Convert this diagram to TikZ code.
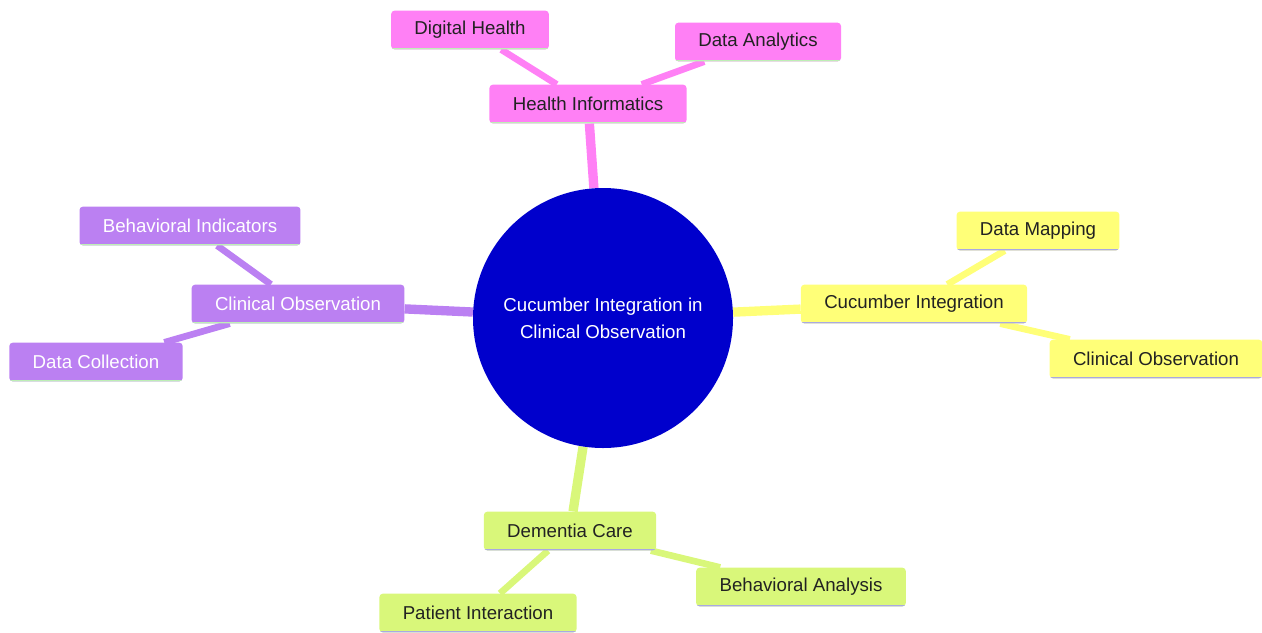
\documentclass[tikz,border=0pt]{standalone}
\usepackage{fontspec}
\setmainfont{Liberation Sans}
\usetikzlibrary{backgrounds}

\definecolor{pinkfill}{HTML}{FF80F5}
\definecolor{purplefill}{HTML}{BB80F2}
\definecolor{yellowfill}{HTML}{FFFF78}
\definecolor{limefill}{HTML}{D9F77A}
\definecolor{greenline}{HTML}{BDEFB5}
\definecolor{lavline}{HTML}{A9A9E3}
\definecolor{hubblue}{HTML}{0000CC}
\definecolor{darktext}{HTML}{222222}

\begin{document}
\begin{tikzpicture}[x=0.75pt,y=-0.75pt,
    topic/.style 2 args={rectangle, rounded corners=2.5pt, fill=#1, minimum height=29pt,
      inner xsep=17.5pt, font=\fontsize{14}{16}\selectfont, text=darktext,
      path picture={\draw[#2,line width=2pt] (path picture bounding box.south west) -- (path picture bounding box.south east);}},
    hub/.style={circle, fill=hubblue, minimum size=195pt, text=white, align=center,
      font=\fontsize{14}{20}\selectfont},
    branch/.style={line width=7pt, #1},
    twig/.style={line width=5pt, #1}]
    \useasboundingbox (0,0) rectangle (1262,632);

    \node[hub] (root) at (603,318) {Cucumber Integration in\\Clinical Observation};

    % health informatics
    \node[topic={pinkfill}{greenline}] (hi) at (588,104) {Health Informatics};
    \node[topic={pinkfill}{greenline}] (dh) at (470,30) {Digital Health};
    \node[topic={pinkfill}{greenline}] (da) at (758,42) {Data Analytics};

    % clinical observation
    \node[topic={purplefill}{greenline},text=white] (co) at (298,304) {Clinical Observation};
    \node[topic={purplefill}{greenline},text=white] (bi) at (190,226) {Behavioral Indicators};
    \node[topic={purplefill}{greenline},text=white] (dc) at (96,362) {Data Collection};

    % cucumber integration
    \node[topic={yellowfill}{lavline}] (ci) at (914,304) {Cucumber Integration};
    \node[topic={yellowfill}{lavline}] (dm) at (1038,231) {Data Mapping};
    \node[topic={yellowfill}{lavline}] (cob) at (1156,359) {Clinical Observation};

    % dementia care
    \node[topic={limefill}{lavline}] (dcare) at (570,531) {Dementia Care};
    \node[topic={limefill}{lavline}] (ba) at (801,587) {Behavioral Analysis};
    \node[topic={limefill}{lavline}] (pi) at (478,613) {Patient Interaction};

    \begin{scope}[on background layer]
    \draw[branch=pinkfill] (root) -- (hi);
    \draw[twig=pinkfill] (hi) -- (dh);
    \draw[twig=pinkfill] (hi) -- (da);
    \draw[branch=purplefill] (root) -- (co);
    \draw[twig=purplefill] (co) -- (bi);
    \draw[twig=purplefill] (co) -- (dc);
    \draw[branch=yellowfill] (root) -- (ci);
    \draw[twig=yellowfill] (ci) -- (dm);
    \draw[twig=yellowfill] (ci) -- (cob);
    \draw[branch=limefill] (root) -- (dcare);
    \draw[twig=limefill] (dcare) -- (ba);
    \draw[twig=limefill] (dcare) -- (pi);
    \end{scope}
\end{tikzpicture}
\end{document}
